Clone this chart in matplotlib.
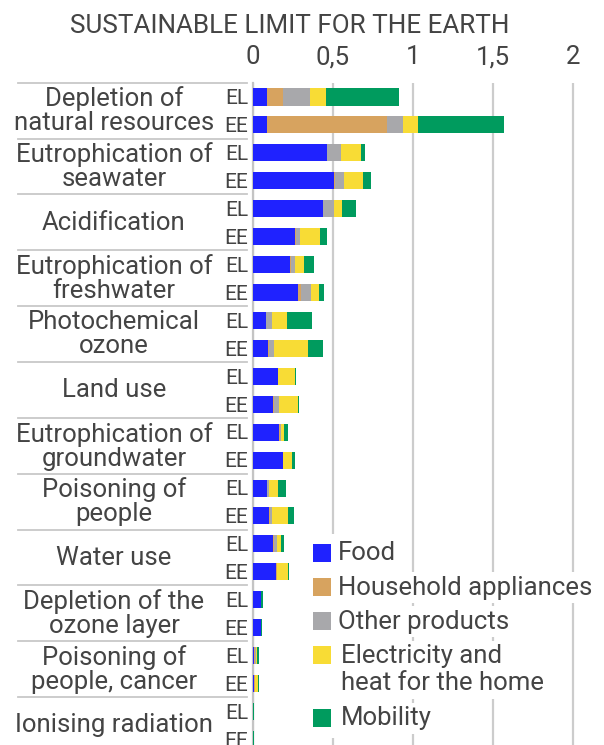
import matplotlib
matplotlib.use("Agg")
import matplotlib.pyplot as plt
from matplotlib.patches import Rectangle
import numpy as np

plt.rcParams['font.family'] = ['Roboto', 'DejaVu Sans']

# ---------------- data ----------------
categories = [
    "Depletion of\nnatural resources",
    "Eutrophication of\nseawater",
    "Acidification",
    "Eutrophication of\nfreshwater",
    "Photochemical\nozone",
    "Land use",
    "Eutrophication of\ngroundwater",
    "Poisoning of\npeople",
    "Water use",
    "Depletion of the\nozone layer",
    "Poisoning of\npeople, cancer",
    "Ionising radiation",
]
regions = ["EL", "EE"]
series = ["Food", "Household appliances", "Other products",
          "Electricity and\nheat for the home", "Mobility"]
colors = ["#1f22ff", "#d7a35f", "#a8a8ab", "#f8dc35", "#009b5e"]

# values per category: [EL, EE]
food = [[0.089, 0.089], [0.462, 0.509], [0.440, 0.266], [0.236, 0.281],
        [0.083, 0.095], [0.159, 0.130], [0.168, 0.188], [0.089, 0.104],
        [0.130, 0.149], [0.056, 0.056], [0.012, 0.012], [0.002, 0.002]]
household = [[0.103, 0.751], [0.003, 0.003], [0.000, 0.006], [0.006, 0.023],
             [0.004, 0.010], [0.000, 0.004], [0.006, 0.000], [0.004, 0.006],
             [0.004, 0.002], [0.000, 0.000], [0.003, 0.003], [0.000, 0.000]]
other = [[0.166, 0.099], [0.087, 0.058], [0.066, 0.025], [0.023, 0.064],
         [0.037, 0.029], [0.000, 0.031], [0.004, 0.002], [0.013, 0.013],
         [0.019, 0.000], [0.000, 0.000], [0.004, 0.002], [0.000, 0.000]]
electricity = [[0.099, 0.095], [0.124, 0.118], [0.050, 0.124], [0.058, 0.048],
               [0.089, 0.211], [0.106, 0.118], [0.017, 0.058], [0.054, 0.097],
               [0.025, 0.070], [0.000, 0.000], [0.010, 0.015], [0.000, 0.000]]
mobility = [[0.460, 0.536], [0.029, 0.052], [0.087, 0.041], [0.064, 0.029],
            [0.161, 0.093], [0.006, 0.010], [0.029, 0.019], [0.052, 0.039],
            [0.017, 0.006], [0.010, 0.005], [0.010, 0.010], [0.010, 0.008]]
tick_values = [0, 0.5, 1, 1.5, 2]
tick_labels = ["0", "0,5", "1", "1,5", "2"]
title = "SUSTAINABLE LIMIT FOR THE EARTH"

# ---------------- figure ----------------
W, H = 604, 745
fig = plt.figure(figsize=(W / 100, H / 100), dpi=100)
txt = "#444444"
FS = 18.5

x0_px, ppu = 252.5, 160.2
xmax = 2.16
ax_w_px = xmax * ppu
top_px = 83
y0_px, pitch = 97.0, 27.93
ytop = (top_px - y0_px) / pitch
ybot = (H - y0_px) / pitch
ax = fig.add_axes([x0_px / W, 0, ax_w_px / W, (H - top_px) / H])
ax.set_xlim(0, xmax)
ax.set_ylim(ybot, ytop)

all_series = [food, household, other, electricity, mobility]
n = len(categories)
ypos = np.array([[2 * g, 2 * g + 1] for g in range(n)]).ravel()
left = np.zeros(len(ypos))
for vals, col in zip(all_series, colors):
    v = np.array(vals).ravel()
    ax.barh(ypos, v, left=left, height=0.61, color=col, zorder=3, linewidth=0)
    left += v

# axes styling
for s in ["top", "right", "bottom"]:
    ax.spines[s].set_visible(False)
ax.spines["left"].set_color("#c4c4c4")
ax.spines["left"].set_linewidth(1.6)
ax.xaxis.tick_top()
ax.set_xticks(tick_values)
ax.set_xticklabels(tick_labels, fontsize=FS, color=txt)
ax.tick_params(axis="x", length=0, pad=10)
ax.set_yticks([])
ax.grid(axis="x", color="#cccccc", linewidth=1.6, zorder=0)
ax.set_axisbelow(True)

# left labels
ytr = ax.get_yaxis_transform()
cap_off = 7.3 / pitch
for g, cat in enumerate(categories):
    ax.text((114 - x0_px) / ax_w_px, 2 * g + 0.5, cat, transform=ytr,
            ha="center", va="center", multialignment="center",
            fontsize=FS, color=txt, linespacing=1.0)
    for r, reg in enumerate(regions):
        ax.text((248 - x0_px) / ax_w_px, 2 * g + r + cap_off, reg,
                transform=ytr, ha="right", va="baseline", fontsize=15,
                color=txt)
    sy = 2 * g - 0.51
    ax.plot([(18 - x0_px) / ax_w_px, (247 - x0_px) / ax_w_px], [sy, sy],
            transform=ytr, color="#c8c8c8", linewidth=1.3, clip_on=False)

# title
fig.text(290 / W, 1 - 33.3 / H, title, ha="center", va="baseline",
         fontsize=18.7, color=txt)

# legend overlay (pixel coordinates)
ov = fig.add_axes([0, 0, 1, 1], zorder=10)
ov.set_xlim(0, W)
ov.set_ylim(H, 0)
ov.axis("off")
ov.patch.set_alpha(0)
ov.add_patch(Rectangle((309, 534), 31, 204, facecolor="white",
                       edgecolor="none", zorder=1))
cy = 553
line_gap = 27.7
for name, col in zip(series, colors):
    extra = name.count("\n")
    ov.add_patch(Rectangle((313, cy - 9), 18, 18, facecolor=col,
                           edgecolor="none", zorder=3))
    ov.text(338 + (3 if extra or name == "Mobility" else 0),
            cy + 7.5 + line_gap * extra, name, ha="left", va="baseline",
            fontsize=FS, color=txt, linespacing=1.155, zorder=2,
            bbox=dict(facecolor="white", edgecolor="none", pad=2.5))
    cy += 34 + 29 * extra

fig.savefig("out.png", dpi=100)
